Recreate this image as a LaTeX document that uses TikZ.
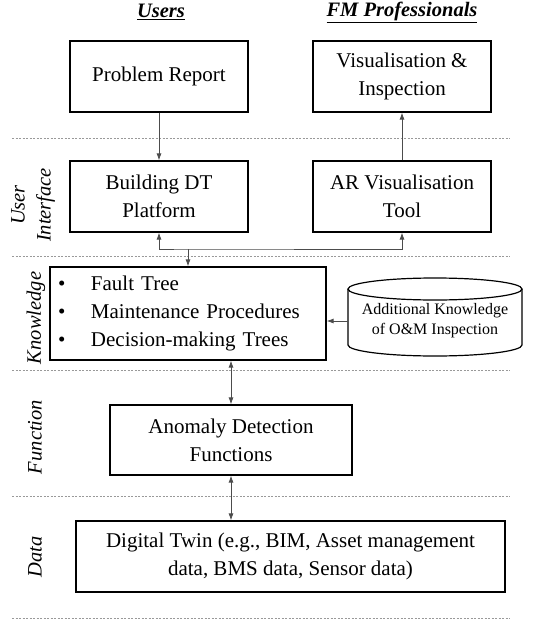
\documentclass[tikz,border=0pt]{standalone}
\usepackage{fontspec}
\setmainfont{Liberation Serif}
\usetikzlibrary{arrows.meta}

\tikzset{
  box/.style={draw, line width=1.2pt, align=center, inner sep=0pt,
    font=\fontsize{21}{28}\selectfont},
  layer/.style={rotate=90, align=center, font=\fontsize{20.5}{26}\selectfont\itshape},
  role/.style={font=\fontsize{20.5}{24}\selectfont\bfseries\itshape},
  flow/.style={draw=black!70, line width=0.8pt, -{Latex[length=7pt,width=5pt]}},
  both/.style={flow, {Latex[length=7pt,width=5pt]}-{Latex[length=7pt,width=5pt]}},
  sep/.style={draw=black!40, line width=0.8pt, dash pattern=on 2pt off 1.5pt},
}
\newcommand{\bul}{\makebox[33pt][l]{\textbullet}}

\begin{document}
\begin{tikzpicture}[x=1pt,y=-1pt]
  \useasboundingbox (0,0) rectangle (558,623);

  % layer separators
  \foreach \yy in {138,256,370,496,618}
    \draw[sep] (12,\yy) -- (510,\yy);

  % actors
  \node[role] (users) at (161,12) {\underline{Users}};
  \node[role] (fmpro) at (402,12) {\underline{FM Professionals}};

  % layer names
  \node[layer] (lui) at (33,205) {User\\Interface};
  \node[layer] (lkn) at (36,318) {Knowledge};
  \node[layer] (lfn) at (35,437) {Function};
  \node[layer] (lda) at (35,557) {Data};

  % boxes
  \node[box, minimum width=178pt, minimum height=71pt] (prob) at (159,76.5) {Problem Report};
  \node[box, minimum width=178pt, minimum height=71pt] (vis) at (402,76.5) {Visualisation \&\\Inspection};
  \node[box, minimum width=178pt, minimum height=71pt] (bdt) at (159,196.5) {Building DT\\Platform};
  \node[box, minimum width=178pt, minimum height=71pt] (ar) at (402,196.5) {AR Visualisation\\Tool};
  \node[box, minimum width=276pt, minimum height=93pt, align=left, text width=260pt]
    (kn) at (188,313.5) {\bul Fault Tree\\\bul Maintenance Procedures\\\bul Decision-making Trees};

  % knowledge store (cylinder)
  \draw[line width=1.2pt] (435,289) ellipse[x radius=87, y radius=11];
  \draw[line width=1.2pt] (348,289) -- (348,345)
    arc[start angle=180, end angle=0, x radius=87, y radius=11] -- (522,289);
  \node[align=center, inner sep=0pt, minimum width=174pt, font=\fontsize{16}{20}\selectfont]
    (addk) at (435,321) {Additional Knowledge\\of O\&M Inspection};

  \node[box, minimum width=242pt, minimum height=70pt] (anom) at (231,440) {Anomaly Detection\\Functions};
  \node[box, minimum width=429pt, minimum height=71pt] (dt) at (290.5,556.5)
    {Digital Twin (e.g., BIM, Asset management\\data, BMS data, Sensor data)};

  % connectors
  \coordinate (split) at (188,249);
  \draw[flow] (prob.south) -- (bdt.north);
  \draw[flow] (ar.north) -- (vis.south);
  \draw[both] (bdt.south) |- (split) -| (ar.south);
  \draw[flow] (split) -- (kn.north);
  \draw[flow] (addk.west) -- (addk.west -| kn.east);
  \draw[both] (anom.north |- kn.south) -- (anom.north);
  \draw[both] (anom.south) -- (anom.south |- dt.north);
\end{tikzpicture}
\end{document}
